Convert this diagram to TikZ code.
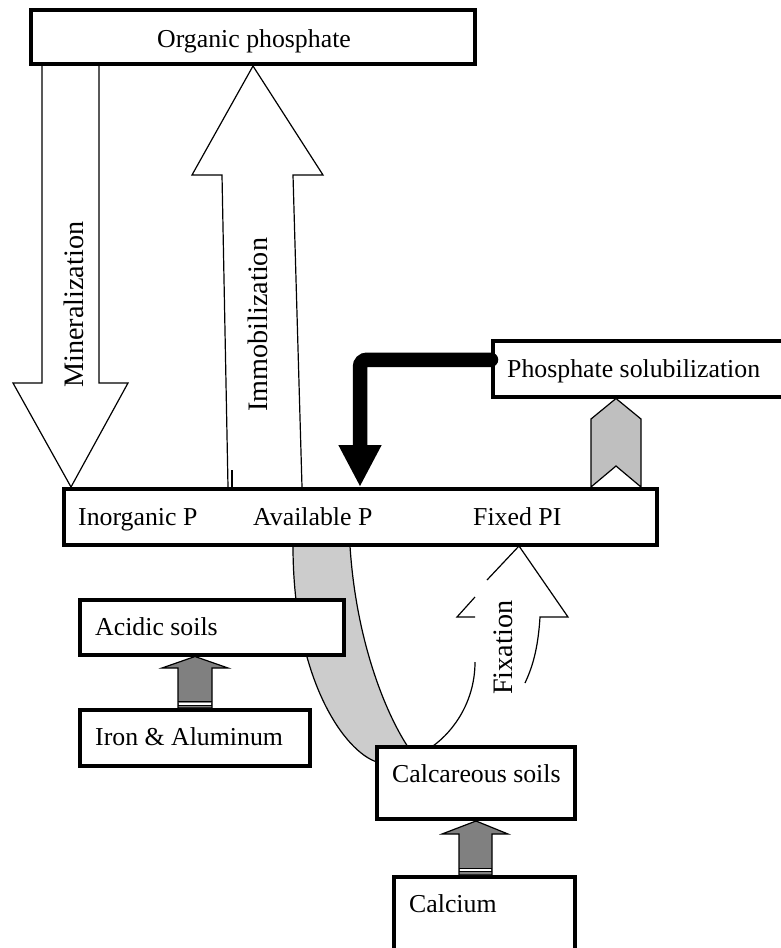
\documentclass[tikz,border=0pt]{standalone}
\usepackage{fontspec}
\setmainfont{Liberation Serif}
\usetikzlibrary{arrows.meta}

\begin{document}
\begin{tikzpicture}[x=1pt,y=-1pt,
    box/.style={draw,line width=4pt,fill=white,anchor=north west,inner sep=0pt},
    lbl/.style={anchor=base west,inner sep=0pt,font=\fontsize{25.8}{30}\selectfont},
    vlbl/.style={anchor=base west,inner sep=0pt,rotate=90,font=\fontsize{28.2}{32}\selectfont},
    blk/.style={draw,line width=1.2pt,fill=white,line join=miter},
    band/.style={draw,line width=1.2pt,fill=black!20},
    minor/.style={draw,line width=1.2pt,fill=gray},
    chev/.style={draw,line width=1.2pt,fill=black!25},
    solline/.style={line width=14.5pt,line cap=round,rounded corners=7pt,-{Triangle[width=40pt,length=42pt]}}]
\useasboundingbox (0,0) rectangle (780,948);

% curved band towards calcareous soils
\draw[band] (293,546) .. controls (293,680) and (345,752) .. (377,762)
  -- (408,747) .. controls (385,712) and (356,640) .. (350,546) -- cycle;

% mineralization / immobilization
\draw[blk] (42,64) -- (42,383) -- (13,383) -- (71,487) -- (128,383) -- (99,383) -- (99,64);
\draw[blk] (228,487) -- (222,175) -- (192,175) -- (253,66) -- (323,175) -- (293,175) -- (302,487);
\draw[line width=1.2pt] (232,470) -- (232,487);

% fixation (drawn open)
\draw[line width=1.2pt] (475,617) -- (457,617) -- (475,597);
\draw[line width=1.2pt] (487,580) -- (519,546) -- (568,617) -- (540,617)
  .. controls (538,650) and (532,668) .. (525,683);
\draw[line width=1.2pt] (475,662) .. controls (475,700) and (455,730) .. (433,746);

% boxes
\node[box,minimum width=444,minimum height=54] (org) at (29,8) {};
\node[box,minimum width=593.5,minimum height=55.5] (bar) at (61.5,487) {};
\node[box,minimum width=307,minimum height=55.5] (sol) at (491,339) {};
\node[box,minimum width=263.5,minimum height=54.5] (acid) at (78,598) {};
\node[box,minimum width=230,minimum height=55.5] (iron) at (78,708) {};
\node[box,minimum width=198,minimum height=72] (calc) at (375,745) {};
\node[box,minimum width=181.5,minimum height=93] (calcium) at (391.5,875) {};

% labels
\node[lbl] (orgtxt) at (157,47) {Organic phosphate};
\node[lbl] (inorg) at (78,525) {Inorganic P};
\node[lbl] (avail) at (253,525) {Available P};
\node[lbl] (fixed) at (473,525) {Fixed PI};
\node[lbl] (soltxt) at (507,377) {Phosphate solubilization};
\node[lbl] (acidtxt) at (95,635) {Acidic soils};
\node[lbl] (irontxt) at (95,745) {Iron \& Aluminum};
\node[lbl] (calctxt) at (392,782) {Calcareous soils};
\node[lbl] (calciumtxt) at (409,912) {Calcium};
\node[vlbl] (minl) at (83,388) {Mineralization};
\node[vlbl] (imml) at (267,412) {Immobilization};
\node[vlbl] (fixl) at (512,695) {Fixation};

% solubilization feedback
\draw[solline] ([yshift=9pt]sol.west) -| (360,0 |- bar.north);
\draw[chev] (616,0 |- sol.south) -- (641,419) -- (641,0 |- bar.north) -- (616,466)
  -- (591,0 |- bar.north) -- (591,419) -- cycle;

% small up arrows
\draw[minor] (178,0 |- iron.north) -- (178,668) -- (162,668) -- (195,0 |- acid.south)
  -- (228,668) -- (212,668) -- (212,0 |- iron.north) -- cycle;
\draw[white,line width=2pt] (179,703.6) -- (211,703.6);
\draw[line width=1pt] (178,701.7) -- (212,701.7) (178,705.5) -- (212,705.5);
\draw[minor] (459,0 |- calcium.north) -- (459,834) -- (442,834) -- (476,0 |- calc.south)
  -- (508,834) -- (492,834) -- (492,0 |- calcium.north) -- cycle;
\draw[white,line width=2pt] (460,870) -- (491,870);
\draw[line width=1pt] (459,868.2) -- (492,868.2) (459,871.8) -- (492,871.8);
\end{tikzpicture}
\end{document}
